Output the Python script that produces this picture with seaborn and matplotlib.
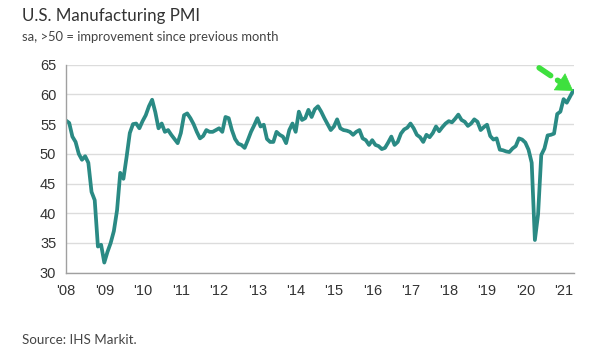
import numpy as np
import pandas as pd
import matplotlib
matplotlib.use("Agg")
import matplotlib.pyplot as plt
import seaborn as sns

# Monthly IHS Markit U.S. Manufacturing PMI, Jan 2008 - Apr 2021
pmi_2008 = [55.6, 55.2, 52.9, 52.0, 50.0, 49.0, 49.6, 48.5, 43.6, 42.2, 34.4, 34.7]
pmi_2009 = [31.7, 33.5, 35.0, 37.0, 40.5, 46.8, 45.8, 49.5, 53.5, 55.0, 55.1, 54.3]
pmi_2010 = [55.5, 56.5, 58.0, 59.1, 57.0, 54.3, 55.1, 53.7, 54.0, 53.2, 52.5, 51.8]
pmi_2011 = [53.5, 56.5, 56.8, 56.0, 55.0, 53.7, 52.6, 53.0, 54.0, 53.7, 53.7, 54.0]
pmi_2012 = [54.3, 53.7, 56.2, 56.0, 54.0, 52.5, 51.7, 51.5, 51.0, 52.3, 53.7, 54.8]
pmi_2013 = [56.0, 54.6, 54.9, 52.5, 52.0, 52.0, 53.7, 53.2, 52.9, 51.8, 54.0, 55.1]
pmi_2014 = [53.7, 57.1, 55.7, 56.0, 57.4, 56.2, 57.5, 58.0, 57.1, 56.0, 55.0, 54.0]
pmi_2015 = [54.6, 55.8, 54.3, 54.0, 53.9, 53.7, 53.2, 53.7, 54.0, 52.6, 52.3, 51.5]
pmi_2016 = [52.3, 51.5, 51.3, 50.8, 51.0, 51.9, 52.9, 51.5, 52.0, 53.4, 54.1, 54.4]
pmi_2017 = [55.1, 54.3, 53.2, 52.8, 52.0, 53.2, 52.8, 53.5, 54.6, 53.8, 54.5, 55.1]
pmi_2018 = [55.5, 55.3, 55.9, 56.6, 55.7, 55.4, 54.7, 55.1, 55.8, 55.4, 54.0, 54.5]
pmi_2019 = [54.9, 53.0, 52.4, 52.6, 50.7, 50.6, 50.4, 50.3, 50.9, 51.3, 52.6, 52.4]
pmi_2020 = [51.9, 50.7, 48.5, 35.5, 39.8, 49.8, 50.9, 53.1, 53.2, 53.4, 56.7, 57.1]
pmi_2021 = [59.2, 58.6, 59.6, 60.6]

years = list(range(2008, 2022))
year_labels = ["'08", "'09", "'10", "'11", "'12", "'13", "'14", "'15",
               "'16", "'17", "'18", "'19", "'20", "'21"]
y_ticks = [30, 35, 40, 45, 50, 55, 60, 65]

title = "U.S. Manufacturing PMI"
subtitle = "sa, >50 = improvement since previous month"
source = "Source: IHS Markit."

values = (pmi_2008 + pmi_2009 + pmi_2010 + pmi_2011 + pmi_2012 + pmi_2013 +
          pmi_2014 + pmi_2015 + pmi_2016 + pmi_2017 + pmi_2018 + pmi_2019 +
          pmi_2020 + pmi_2021)
t = 2008 + np.arange(len(values)) / 12.0
df = pd.DataFrame({"t": t, "pmi": values})

sns.set_style("white")
plt.rcParams["font.family"] = ["Liberation Sans", "DejaVu Sans"]

fig = plt.figure(figsize=(6.09, 3.58), dpi=100)
ax = fig.add_axes([0.1084, 0.2383, 0.834, 0.581])

sns.lineplot(data=df, x="t", y="pmi", ax=ax, color="#2a8a84", linewidth=2.7,
             solid_joinstyle="round", solid_capstyle="round")

ax.set_xlim(2008, 2021.27)
ax.set_ylim(30, 65)
ax.set_yticks(y_ticks)
ax.set_xticks(years)
ax.set_xticklabels(year_labels)
ax.set_xlabel("")
ax.set_ylabel("")
ax.grid(axis="y", color="#dcdcdc", linewidth=1)
ax.grid(axis="x", visible=False)
for s in ["top", "right"]:
    ax.spines[s].set_visible(False)
for s in ["left", "bottom"]:
    ax.spines[s].set_color("#a0a0a0")
    ax.spines[s].set_linewidth(1)
ax.tick_params(axis="both", which="major", length=4, width=1, color="#a0a0a0",
               labelsize=10.5, labelcolor="#333333", direction="out")
ax.tick_params(axis="x", pad=4)
ax.tick_params(axis="y", pad=3)

# green dashed arrow pointing to the latest reading
last = (t[-1], values[-1])
ax.annotate("", xy=last, xycoords="data", xytext=(-34, 23), textcoords="offset pixels",
            arrowprops=dict(arrowstyle="-", color="#3ee03e", lw=4, linestyle=(0, (2.5, 1.5)),
                            shrinkA=0, shrinkB=10), annotation_clip=False)
ax.annotate("", xy=last, xycoords="data", xytext=(-18, 12), textcoords="offset pixels",
            arrowprops=dict(arrowstyle="-|>,head_length=0.8,head_width=0.5", color="#3ee03e",
                            lw=0.5, shrinkA=0, shrinkB=0, mutation_scale=14), annotation_clip=False)

fig.text(22 / 609, 1 - 16 / 358, title, family=["Lato", "DejaVu Sans"], fontsize=12.2,
         color="#333333", va="center", ha="left")
fig.text(22 / 609, 1 - 37 / 358, subtitle, family=["Lato", "DejaVu Sans"], fontsize=9.4,
         color="#444444", va="center", ha="left")
fig.text(22 / 609, 1 - 340 / 358, source, family=["Lato", "DejaVu Sans"], fontsize=9.6,
         color="#444444", va="center", ha="left")

fig.savefig("out.png", dpi=100)
